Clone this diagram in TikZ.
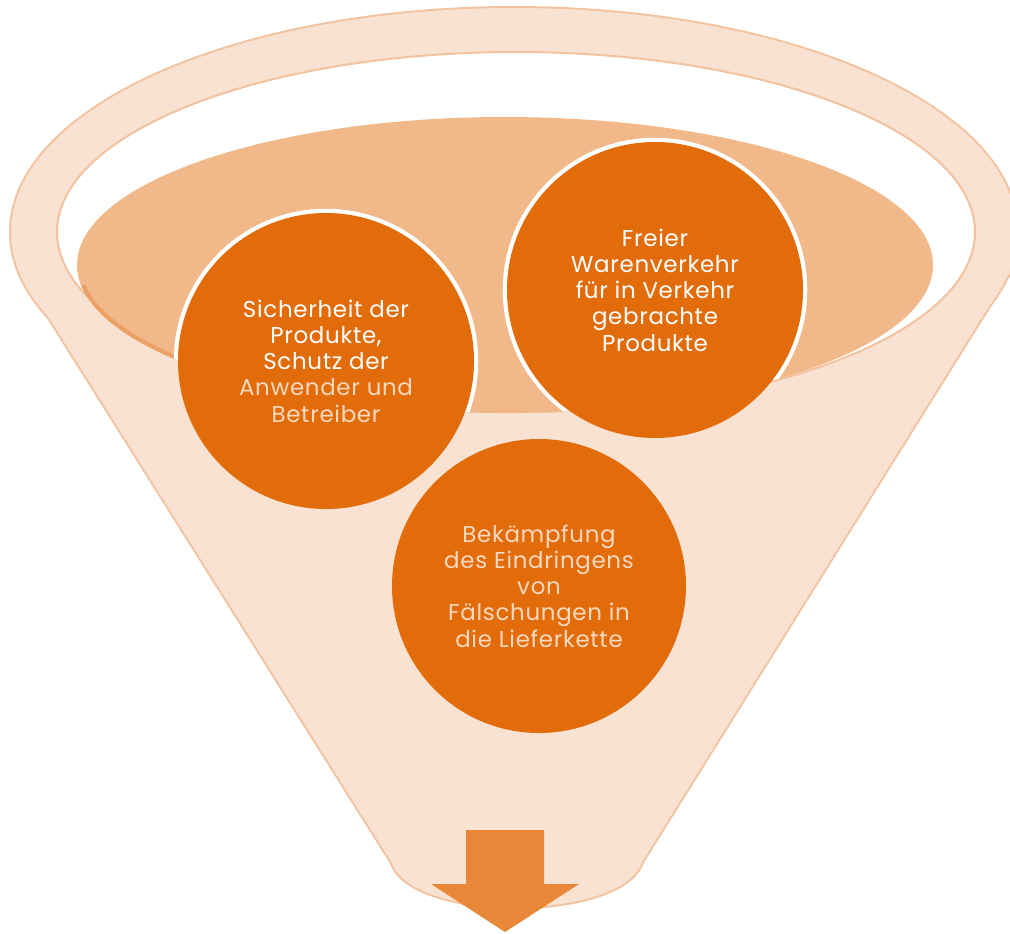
\documentclass[tikz,border=0pt]{standalone}
\usepackage{fontspec}
\setmainfont{Poppins}
\definecolor{peach}{HTML}{F9E2D1}
\definecolor{fline}{HTML}{F2C39E}
\definecolor{tan}{HTML}{F1B98A}
\definecolor{band}{HTML}{EBA066}
\definecolor{orng}{HTML}{E36C0A}
\definecolor{arrowc}{HTML}{E7832F}
\definecolor{pale}{HTML}{F9D9BF}
\tikzset{
  txt/.style={align=center, text=white, font=\fontsize{17.2pt}{19.7pt}\selectfont\addfontfeature{LetterSpace=3}, inner sep=0pt},
  ring/.style={draw=white, line width=3.4pt},
}
\begin{document}
\begin{tikzpicture}[x=0.75pt,y=-0.75pt]
\useasboundingbox (0,0) rectangle (1010,933);
% funnel outline (double-width stroke, then fill covers inner half)
\draw[fline, line width=3pt] (514,232) ellipse [x radius=503, y radius=224];
\draw[fline, line width=3pt, line join=round] (17,267) -- (392,863) .. controls (412,922) and (622,922) .. (642,862) -- (1011,271) -- cycle;
\fill[peach] (514,232) ellipse [x radius=503, y radius=224];
\fill[peach] (17,267) -- (392,863) .. controls (412,922) and (622,922) .. (642,862) -- (1011,271) -- cycle;
% inner opening
\draw[fill=white, draw=fline, line width=1.5pt] (516,232) ellipse [x radius=459, y radius=180];
% tan content ellipse
\fill[tan] (505,265) ellipse [x radius=428, y radius=148];
\begin{scope}
  \clip (75,285) rectangle (180,362);
  \draw[band, line width=3pt] (505,264) ellipse [x radius=426, y radius=147];
\end{scope}
% white rings visible only over the tan ellipse
\begin{scope}
  \clip (505,265) ellipse [x radius=428, y radius=148];
  \draw[ring] (326,361) circle [radius=150];
  \draw[ring] (655,290) circle [radius=150];
\end{scope}
% circles
\fill[orng] (326,361) circle [radius=148];
\fill[orng] (655,290) circle [radius=148];
\fill[orng] (539,586) circle [radius=147];
\node[txt] (sich) at (326,361) {Sicherheit der\\Produkte,\\Schutz der\\\textcolor{pale}{Anwender und}\\\textcolor{pale}{Betreiber}};
\node[txt] (frei) at (655,290) {Freier\\Warenverkehr\\für in Verkehr\\gebrachte\\Produkte};
\node[txt, text=pale] (bekaempf) at (539,586) {Bekämpfung\\des Eindringens\\von\\Fälschungen in\\die Lieferkette};
% arrow
\fill[arrowc, opacity=0.95] (466,830) -- (544,830) -- (544,884) -- (579,884) -- (505,932) -- (431,884) -- (466,884) -- cycle;
\end{tikzpicture}
\end{document}
